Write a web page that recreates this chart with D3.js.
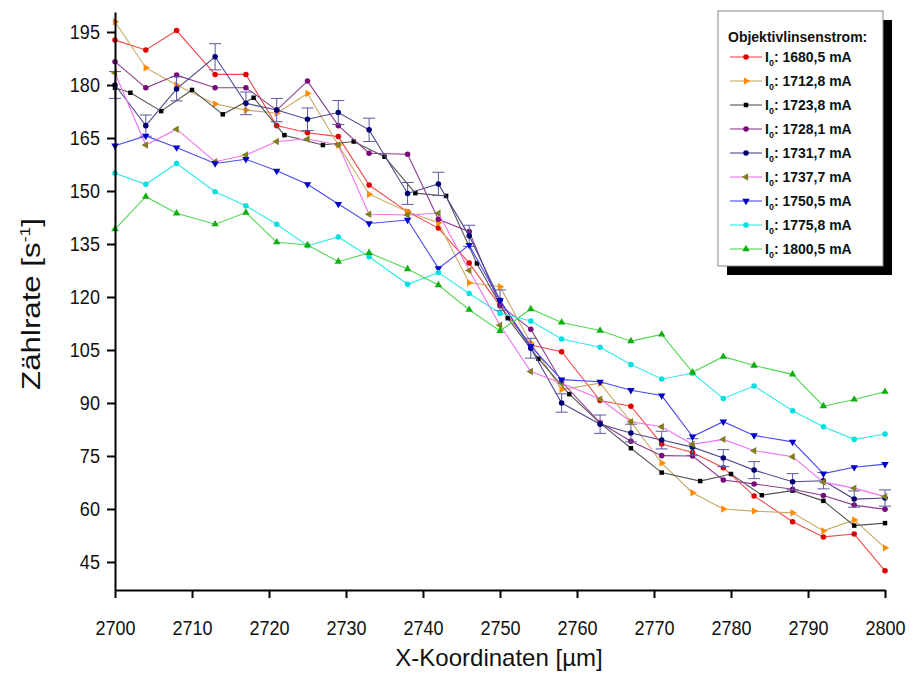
<!DOCTYPE html>
<html>
<head>
<meta charset="utf-8">
<script src="https://cdn.jsdelivr.net/npm/d3@7"></script>
<style>
  body { margin: 0; background: #fff; }
  text { font-family: "Liberation Sans", Arial, sans-serif; }
</style>
</head>
<body>
<script>
// --------------------------------------------- Data ---------------------------------------------- //
var currents = ["1680,5", "1712,8", "1723,8", "1728,1", "1731,7", "1737,7", "1750,5", "1775,8", "1800,5"];

// most scans share these x positions
var x_std = [2700, 2704, 2708, 2713, 2717, 2721, 2725, 2729, 2733, 2738, 2742, 2746, 2750,
             2754, 2758, 2763, 2767, 2771, 2775, 2779, 2783, 2788, 2792, 2796, 2800];
// 1723,8 mA scan was shifted a bit
var x_blk = [2700, 2702, 2706, 2710, 2714, 2718, 2722, 2727, 2731, 2735, 2739, 2743, 2747,
             2751, 2755, 2759, 2763, 2767, 2771, 2776, 2780, 2784, 2788, 2792, 2796, 2800];

var y_1680 = [192.7, 189.9, 195.4, 183.0, 183.0, 168.5, 166.5, 165.4, 151.7, 144.1, 139.5, 129.6, 117.5,
              106.4, 104.5, 90.7, 89.1, 78.4, 76, 71.7, 63.7, 56.4, 52.1, 52.9, 42.5];
var y_1712 = [197.9, 184.9, 180, 174.6, 172.9, 172, 177.6, 163, 149.1, 144.1, 141, 124, 122.9,
              107, 93.8, 95.6, 84.7, 73, 64.6, 60, 59.4, 58.9, 53.8, 56.9, 49];
var y_1723 = [179.2, 177.8, 172.6, 178.6, 171.7, 176.4, 165.8, 163, 164, 159.7, 149.4, 148.6, 129.5,
              114, 102.5, 92.5, 84.3, 77.2, 70.3, 67.9, 69.9, 63.9, 65.2, 62.3, 55.3, 56];
var y_1728 = [186.6, 179.2, 182.8, 179.2, 179.2, 172.9, 181.1, 168.5, 160.7, 160.4, 142, 138.5, 117.7,
              110.9, 96, 84.4, 79.2, 75.1, 75, 68.2, 67.1, 65.6, 63.8, 61.1, 59.9];
var y_1731 = [180, 168.5, 178.9, 188, 174.8, 172.9, 170.3, 172.2, 167.3, 149.3, 152, 137.3, 119.1,
              105.5, 90, 84, 81.5, 79.5, 77.5, 74.4, 71, 67.7, 68, 62.8, 63.1];
var e_1731 = [3.8, 3.0, 3.4, 3.7, 3.2, 3.3, 3.2, 3.4, 3.3, 3.1, 3.3, 3.0, 2.9,
              2.8, 2.6, 2.6, 2.5, 2.5, 2.4, 2.4, 2.4, 2.3, 2.3, 2.3, 2.3];
var y_1737 = [183.4, 163, 167.5, 158.3, 160.2, 164, 164.7, 163, 143.4, 143.2, 143.7, 127.5, 112,
              98.9, 95.6, 91.1, 84.7, 83.3, 78.3, 79.7, 76.5, 74.8, 67.6, 65.9, 63.5];
var y_1750 = [162.8, 165.6, 162.3, 157.8, 159, 155.7, 151.9, 146.3, 140.8, 141.8, 128.1, 134.7, 119,
              106, 96.6, 96, 93.6, 92.1, 80.5, 84.7, 80.8, 79, 70, 71.8, 72.7];
var y_1775 = [155, 151.9, 157.8, 149.8, 145.8, 140.6, 134.5, 137, 131.4, 123.6, 126.9, 121, 115.4,
              113.2, 108.1, 105.8, 100.9, 96.8, 98.4, 91.3, 94.8, 87.8, 83.3, 79.7, 81.2];
var y_1800 = [139.2, 148.4, 143.7, 140.6, 143.9, 135.5, 134.7, 130, 132.5, 127.9, 123.4, 116.4, 110.4,
              116.6, 112.8, 110.5, 107.5, 109.4, 98.7, 103.1, 100.6, 98.1, 89.1, 91, 93.2];

var x_ticks = [2700, 2710, 2720, 2730, 2740, 2750, 2760, 2770, 2780, 2790, 2800];
var y_ticks = [45, 60, 75, 90, 105, 120, 135, 150, 165, 180, 195];

// ---------------------------------------- Series styling ----------------------------------------- //
var series = [
    {name: currents[0], x: x_std, y: y_1680, line: "#f24a4a", mark: "#e00000", sym: "circle"},
    {name: currents[1], x: x_std, y: y_1712, line: "#c8a860", mark: "#ff8c00", sym: "tri_r"},
    {name: currents[2], x: x_blk, y: y_1723, line: "#555555", mark: "#000000", sym: "square"},
    {name: currents[3], x: x_std, y: y_1728, line: "#8c3c8c", mark: "#7a0a7a", sym: "circle"},
    {name: currents[4], x: x_std, y: y_1731, line: "#4a4a8e", mark: "#000070", sym: "circle", err: e_1731},
    {name: currents[5], x: x_std, y: y_1737, line: "#f070f0", mark: "#808020", sym: "tri_l"},
    {name: currents[6], x: x_std, y: y_1750, line: "#4a4af0", mark: "#0000c8", sym: "tri_d"},
    {name: currents[7], x: x_std, y: y_1775, line: "#30e8e8", mark: "#00e0e0", sym: "circle"},
    {name: currents[8], x: x_std, y: y_1800, line: "#50d850", mark: "#10b010", sym: "tri_u"}
];

// --------------------------------------------- Init SVG ---------------------------------------------- //
var W = 912, H = 674;
var svg = d3.select("body").append("svg")
    .attr("width", W)
    .attr("height", H);

var x = d3.scaleLinear().domain([2700, 2800]).range([115, 885]);
var y = d3.scaleLinear().domain([37.07, 200.66]).range([590, 12]);

function symbol_path(sym) {
    if (sym == "circle") return d3.symbol(d3.symbolCircle, 24)();
    if (sym == "square") return d3.symbol(d3.symbolSquare, 20)();
    return d3.symbol(d3.symbolTriangle, 24)();
}
function symbol_rot(sym) {
    if (sym == "tri_r") return 90;
    if (sym == "tri_l") return -90;
    if (sym == "tri_d") return 180;
    return 0;
}

// ------------------------------------------ Draw series ------------------------------------------- //
var line = d3.line()
    .x(function(d) { return x(d[0]); })
    .y(function(d) { return y(d[1]); });

series.forEach(function(s) {
    var pts = s.x.map(function(v, i) { return [v, s.y[i]]; });
    var g = svg.append("g").attr("class", "series");
    g.append("path")
        .datum(pts)
        .attr("fill", "none")
        .attr("stroke", s.line)
        .attr("stroke-width", 1.1)
        .attr("d", line);

    if (s.err) {
        var eb = g.append("g").attr("class", "errbars")
            .attr("stroke", "#5a5aa0")
            .attr("stroke-width", 1);
        pts.forEach(function(p, i) {
            var cx = x(p[0]), y0 = y(p[1] - s.err[i]), y1 = y(p[1] + s.err[i]);
            eb.append("line").attr("x1", cx).attr("x2", cx).attr("y1", y0).attr("y2", y1);
            eb.append("line").attr("x1", cx - 6).attr("x2", cx + 6).attr("y1", y0).attr("y2", y0);
            eb.append("line").attr("x1", cx - 6).attr("x2", cx + 6).attr("y1", y1).attr("y2", y1);
        });
    }

    g.selectAll("path.mark")
        .data(pts)
        .enter().append("path")
            .attr("class", "mark")
            .attr("d", symbol_path(s.sym))
            .attr("fill", s.mark)
            .attr("transform", function(d) {
                return "translate(" + x(d[0]) + "," + y(d[1]) + ") rotate(" + symbol_rot(s.sym) + ")";
            });
});

// ---------------------------------------------- Axes ----------------------------------------------- //
var xAxis = svg.append("g")
    .attr("transform", "translate(0,590)")
    .call(d3.axisBottom(x).tickValues(x_ticks).tickFormat(d3.format("d"))
        .tickSize(8).tickSizeOuter(0).tickPadding(22));
var yAxis = svg.append("g")
    .attr("transform", "translate(115,0)")
    .call(d3.axisLeft(y).tickValues(y_ticks).tickSize(8).tickSizeOuter(0).tickPadding(7));

[xAxis, yAxis].forEach(function(a) {
    a.select(".domain").attr("stroke", "#000").attr("stroke-width", 2);
    a.selectAll(".tick line").attr("stroke", "#000").attr("stroke-width", 2);
    a.selectAll(".tick text")
        .attr("fill", "#111")
        .style("font-family", "'Liberation Sans', Arial, sans-serif")
        .style("font-size", "21px");
});
// tick labels in the original are a narrow face
xAxis.selectAll(".tick text").attr("transform", "scale(0.86,1)");
yAxis.selectAll(".tick text").attr("x", -17.5).attr("transform", "scale(0.86,1)");

svg.append("text")
    .attr("x", 499)
    .attr("y", 666)
    .attr("text-anchor", "middle")
    .style("font-size", "24px")
    .attr("fill", "#111")
    .text("X-Koordinaten [\u00b5m]");

var ylab = svg.append("text")
    .attr("transform", "translate(40,304) rotate(-90) scale(1.25,1)")
    .attr("text-anchor", "middle")
    .style("font-size", "25px")
    .attr("fill", "#111");
ylab.append("tspan").text("Z\u00e4hlrate [s");
ylab.append("tspan").attr("dy", -10).style("font-size", "14px").text("-1");
ylab.append("tspan").attr("dy", 10).text("]");

// --------------------------------------------- Legend ---------------------------------------------- //
var lg = svg.append("g").attr("class", "legend");
lg.append("rect")
    .attr("x", 727).attr("y", 20)
    .attr("width", 165).attr("height", 255)
    .attr("fill", "#000");
lg.append("rect")
    .attr("x", 718).attr("y", 11)
    .attr("width", 165).attr("height", 255)
    .attr("fill", "#fff")
    .attr("stroke", "#888")
    .attr("stroke-width", 1);
lg.append("text")
    .attr("x", 728).attr("y", 42)
    .style("font-size", "14px")
    .style("font-weight", "bold")
    .attr("fill", "#111")
    .text("Objektivlinsenstrom:");

series.forEach(function(s, i) {
    var ly = 57 + i * 24;
    var e = lg.append("g").attr("transform", "translate(0," + ly + ")");
    e.append("line")
        .attr("x1", 730).attr("x2", 762)
        .attr("y1", 0).attr("y2", 0)
        .attr("stroke", s.line)
        .attr("stroke-width", 1.1);
    e.append("path")
        .attr("d", symbol_path(s.sym))
        .attr("fill", s.mark)
        .attr("transform", "translate(746,0) rotate(" + symbol_rot(s.sym) + ")");
    var t = e.append("text")
        .attr("x", 765).attr("y", 5)
        .style("font-size", "14px")
        .style("font-weight", "bold")
        .attr("fill", "#111");
    t.append("tspan").text("I");
    t.append("tspan").attr("dy", 4).style("font-size", "9px").text("0");
    t.append("tspan").attr("dy", -4).text(": " + s.name + " mA");
});
</script>
</body>
</html>
